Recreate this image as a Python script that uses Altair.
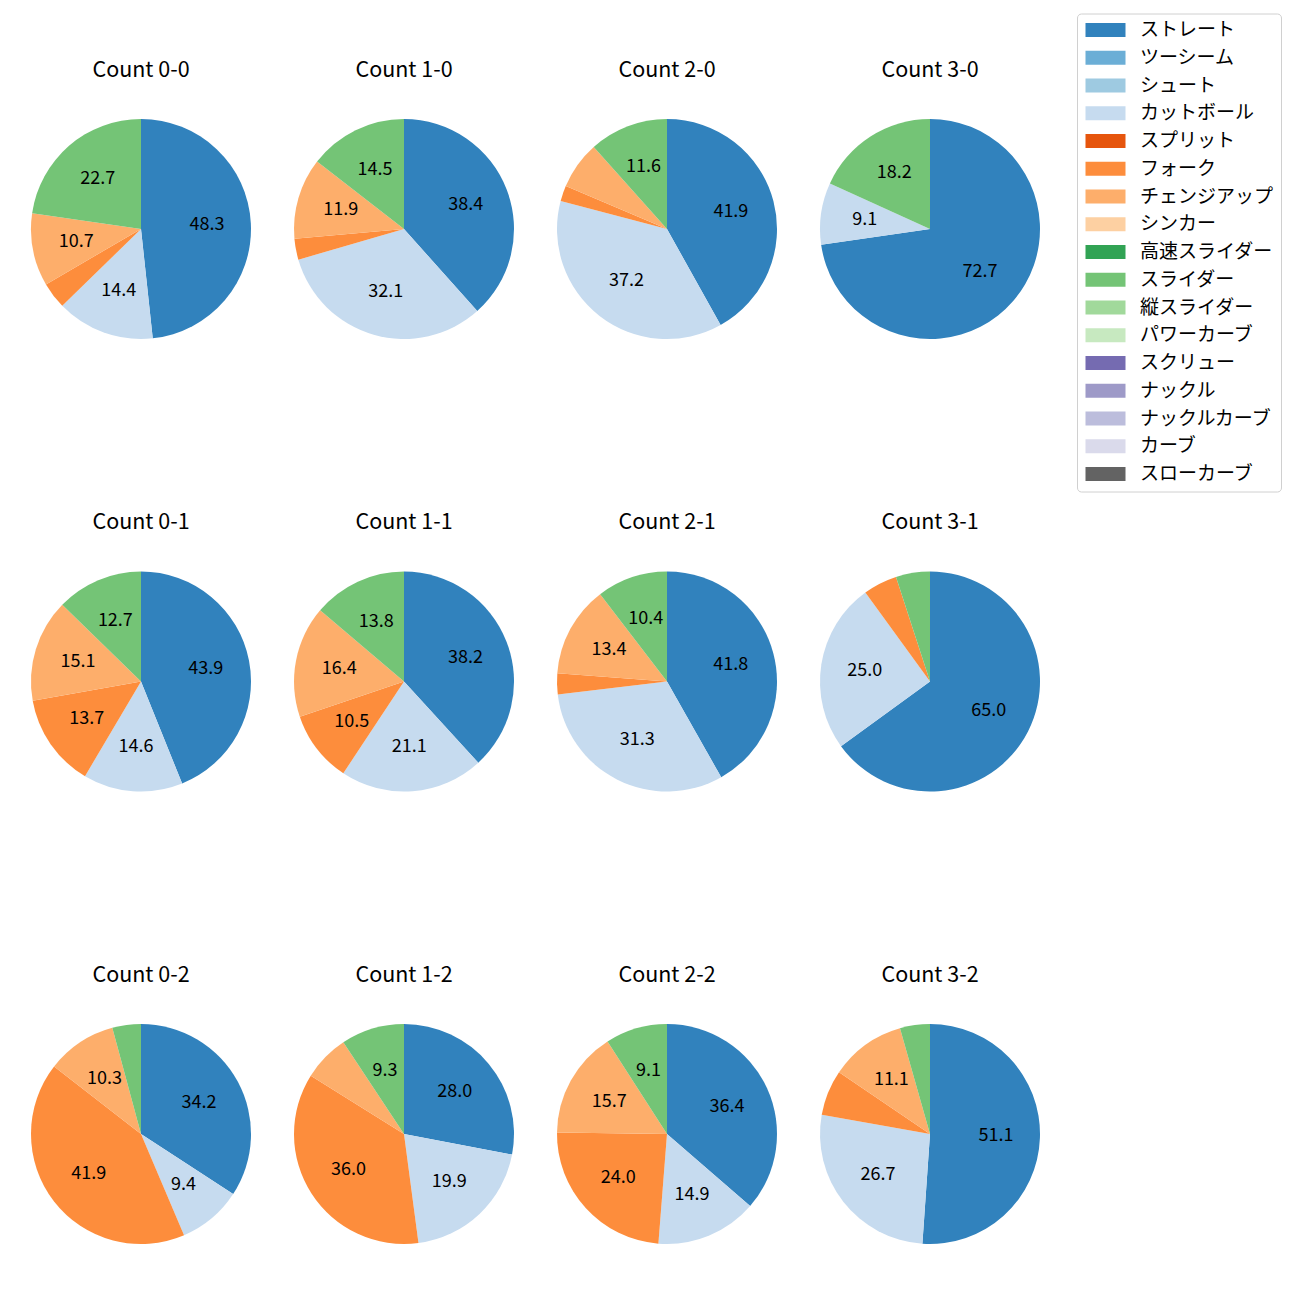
import altair as alt
import pandas as pd

pitch_types = ["ストレート", "ツーシーム", "シュート", "カットボール", "スプリット", "フォーク",
               "チェンジアップ", "シンカー", "高速スライダー", "スライダー", "縦スライダー",
               "パワーカーブ", "スクリュー", "ナックル", "ナックルカーブ", "カーブ", "スローカーブ"]
colors = ["#3182bd", "#6baed6", "#9ecae1", "#c6dbef", "#e6550d", "#fd8d3c", "#fdae6b", "#fdd0a2",
          "#31a354", "#74c476", "#a1d99b", "#c7e9c0", "#756bb1", "#9e9ac8", "#bcbddc", "#dadaeb",
          "#636363"]

counts = ["0-0", "1-0", "2-0", "3-0", "0-1", "1-1", "2-1", "3-1", "0-2", "1-2", "2-2", "3-2"]
straight = [48.3, 38.4, 41.9, 72.7, 43.9, 38.2, 41.8, 65.0, 34.2, 28.0, 36.4, 51.1]
cutter = [14.4, 32.1, 37.2, 9.1, 14.6, 21.1, 31.3, 25.0, 9.4, 19.9, 14.9, 26.7]
fork = [3.9, 3.1, 2.3, 0.0, 13.7, 10.5, 3.1, 5.0, 41.9, 36.0, 24.0, 6.7]
changeup = [10.7, 11.9, 7.0, 0.0, 15.1, 16.4, 13.4, 0.0, 10.3, 6.8, 15.7, 11.1]
slider = [22.7, 14.5, 11.6, 18.2, 12.7, 13.8, 10.4, 5.0, 4.2, 9.3, 9.1, 4.4]

series = {"ストレート": straight, "カットボール": cutter, "フォーク": fork,
          "チェンジアップ": changeup, "スライダー": slider}

rows = []
for i, c in enumerate(counts):
    for name, vals in series.items():
        v = vals[i]
        if v <= 0:
            continue
        rows.append({"title": f"Count {c}", "pitch": name, "value": v,
                     "idx": pitch_types.index(name),
                     "label": f"{v:.1f}" if v >= 8 else ""})
df = pd.DataFrame(rows)
titles = [f"Count {c}" for c in counts]

FONT = "Noto Sans CJK JP"

color = alt.Color("pitch:N", scale=alt.Scale(domain=pitch_types, range=colors),
                  legend=alt.Legend(title=None, orient="none", legendX=1046, legendY=-105.5,
                                    labelFont=FONT, labelFontSize=19,
                                    symbolType="M-2.5,-0.875L2.5,-0.875L2.5,0.875L-2.5,0.875Z",
                                    symbolSize=256, symbolStrokeWidth=0, symbolOpacity=1,
                                    strokeColor="#d0d0d0", fillColor="white", cornerRadius=4,
                                    padding=7, rowPadding=7.75, symbolOffset=12, labelOffset=25,
                                    labelLimit=300))

base = alt.Chart(df)
arc = base.mark_arc().encode(
    theta=alt.Theta("value:Q", stack="normalize"),
    color=color,
    order=alt.Order("idx:Q"),
)
text = base.mark_text(radius=66, fontSize=18, font=FONT, color="black").encode(
    theta=alt.Theta("value:Q", stack="normalize"),
    order=alt.Order("idx:Q"),
    text="label:N",
)

chart = alt.layer(arc, text).properties(width=220, height=220).facet(
    facet=alt.Facet("title:N", sort=titles,
                    header=alt.Header(title=None, labelFont=FONT, labelFontSize=21.5,
                                      labelPadding=38, labelColor="black")),
    columns=4,
    spacing={"row": 172.5, "column": 43},
).resolve_scale(theta="independent").properties(
    padding={"left": 31, "top": 13, "right": 5, "bottom": 5}
).configure_view(stroke=None)

chart.save("out.html", embed_options={"renderer": "svg", "actions": False})
